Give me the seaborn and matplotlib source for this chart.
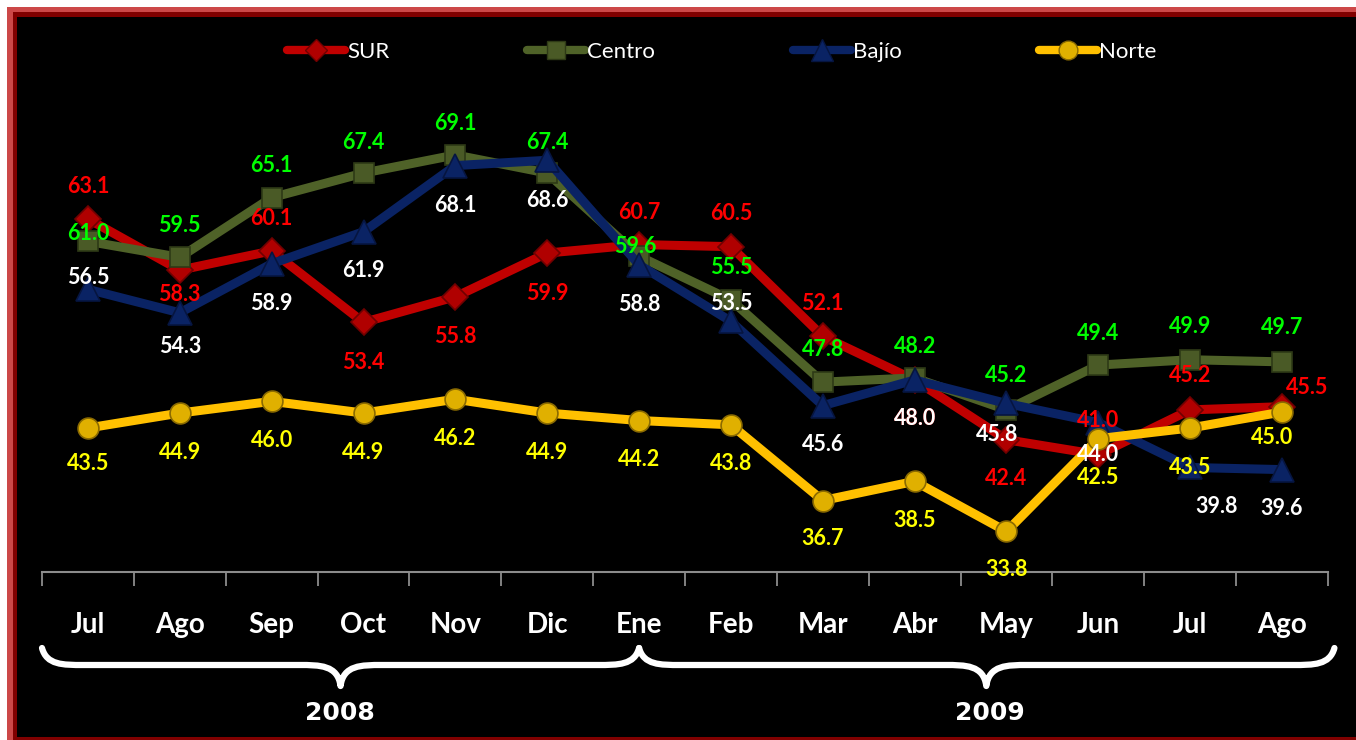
import numpy as np
import pandas as pd
import seaborn as sns
import matplotlib
matplotlib.use("Agg")
import matplotlib.pyplot as plt
from matplotlib.patches import Rectangle, PathPatch
from matplotlib.path import Path
from matplotlib.lines import Line2D
import matplotlib.transforms as mtransforms

# ---------------- data ----------------
months = ["Jul", "Ago", "Sep", "Oct", "Nov", "Dic", "Ene", "Feb", "Mar", "Abr",
          "May", "Jun", "Jul", "Ago"]
years = ["2008", "2009"]
regions = ["SUR", "Centro", "Bajío", "Norte"]
sur = [63.1, 58.3, 60.1, 53.4, 55.8, 59.9, 60.7, 60.5, 52.1, 48.0, 42.4, 41.0, 45.2, 45.5]
centro = [61.0, 59.5, 65.1, 67.4, 69.1, 67.4, 59.6, 55.5, 47.8, 48.2, 45.2, 49.4, 49.9, 49.7]
bajio = [56.5, 54.3, 58.9, 61.9, 68.1, 68.6, 58.8, 53.5, 45.6, 48.0, 45.8, 44.0, 39.8, 39.6]
norte = [43.5, 44.9, 46.0, 44.9, 46.2, 44.9, 44.2, 43.8, 36.7, 38.5, 33.8, 42.5, 43.5, 45.0]

series = {"SUR": sur, "Centro": centro, "Bajío": bajio, "Norte": norte}
df = pd.DataFrame([
    {"idx": i, "month": m, "region": r, "value": v}
    for r in regions for i, (m, v) in enumerate(zip(months, series[r]))
])

# ---------------- styles ----------------
W, H = 1356, 740
line_colors = {"SUR": "#c00000", "Centro": "#4f6228", "Bajío": "#0a2364", "Norte": "#ffc000"}
marker_face = {"SUR": "#b00000", "Centro": "#4a5a26", "Bajío": "#0a2364", "Norte": "#e0b000"}
marker_edge = {"SUR": "#700000", "Centro": "#2e3a16", "Bajío": "#061540", "Norte": "#8a6a00"}
markers = {"SUR": "D", "Centro": "s", "Bajío": "^", "Norte": "o"}
msize = {"SUR": 13, "Centro": 15, "Bajío": 17, "Norte": 15}
label_colors = {"SUR": "#ff0000", "Centro": "#00ff00", "Bajío": "#ffffff", "Norte": "#ffff00"}

# label offsets in pixels (dx, dy downward)
offsets = {
    "SUR": [(0, -32), (0, 24), (0, -32), (0, 40), (0, 40), (0, 40), (0, -32), (0, -33),
            (0, -33), (0, 38), (0, 39), (0, -34), (0, -34), (25, -19)],
    "Centro": [(0, -8), (0, -32), (0, -32), (0, -31), (0, -31), (0, -31), (-4, -10), (0, -32),
               (0, -33), (0, -31), (0, -34), (0, -32), (0, -33), (0, -34)],
    "Bajío": [(0, -12), (0, 34), (0, 40), (0, 39), (0, 40), (0, 40), (0, 40), (0, -18),
              (0, 39), (0, 38), (-9, 31), (0, 32), (26, 39), (0, 39)],
    "Norte": [(0, 36), (0, 39), (0, 39), (0, 39), (0, 39), (0, 39), (0, 39), (0, 39),
              (0, 38), (0, 39), (0, 38), (0, 39), (0, 39), (-10, 25)],
}

sns.set_theme(style="white")
plt.rcParams["font.family"] = ["Lato", "DejaVu Sans"]

fig = plt.figure(figsize=(W / 100, H / 100), dpi=100, facecolor="white")

def fy(py):
    return 1 - py / H

def fx(px):
    return px / W

# frame
fig.patches.append(Rectangle((fx(7), 0), 1, fy(7), transform=fig.transFigure,
                             facecolor="#cc4848", edgecolor="none", zorder=-30))
fig.patches.append(Rectangle((fx(13), 0), 1, fy(12), transform=fig.transFigure,
                             facecolor="#800000", edgecolor="none", zorder=-20))
fig.patches.append(Rectangle((fx(17), fy(737)), 1, fy(17) - fy(737), transform=fig.transFigure,
                             facecolor="black", edgecolor="none", zorder=-10))

ax = fig.add_axes([fx(42), fy(572), fx(1328) - fx(42), fy(92) - fy(572)])
ax.set_facecolor("none")
ax.set_zorder(1)

sns.lineplot(data=df, x="idx", y="value", hue="region", hue_order=regions,
             palette=line_colors, linewidth=6.5, sort=False, legend=False, ax=ax,
             zorder=2)
for k, r in enumerate(regions):
    ax.lines[k].set_zorder(2 + k)
    ax.lines[k].set_solid_capstyle("butt")
    sub = df[df.region == r]
    ax.plot(sub["idx"], sub["value"], linestyle="none", marker=markers[r],
            markersize=msize[r], markerfacecolor=marker_face[r],
            markeredgecolor=marker_edge[r], markeredgewidth=1.2, zorder=2.5 + k)

# data labels
for k, r in enumerate(regions):
    for i, v in enumerate(series[r]):
        dx, dy = offsets[r][i]
        ax.annotate(f"{v:.1f}", (i, v), xytext=(dx, -dy), textcoords="offset pixels",
                    ha="center", va="center", color=label_colors[r], fontsize=15.5,
                    fontweight="bold", zorder=10, annotation_clip=False)

ax.set_xlim(-0.5, len(months) - 0.5)
ax.set_ylim(30, 75)
ax.set_yticks([])
ax.set_xticks(range(len(months)))
ax.set_xticklabels(months, color="white", fontsize=20, fontweight="bold")
ax.set_xticks(np.arange(-0.5, len(months), 1), minor=True)
ax.tick_params(axis="x", which="major", bottom=True, length=0, pad=29)
ax.tick_params(axis="x", which="minor", bottom=True, length=10, width=1.3,
               color="#8c8c8c", direction="out")
ax.set_xlabel("")
ax.set_ylabel("")
for s in ["top", "left", "right"]:
    ax.spines[s].set_visible(False)
ax.spines["bottom"].set_color("#8c8c8c")
ax.spines["bottom"].set_linewidth(1.5)

# braces under the month labels
tr = mtransforms.blended_transform_factory(ax.transData, fig.transFigure)
ytop, ybar, ytip = fy(648), fy(665), fy(686)

def brace(xl, xr, xc, d=0.45):
    verts = [(xl, ytop), (xl + 0.05, ybar), (xl + d * 0.5, ybar), (xl + d, ybar),
             (xc - d, ybar),
             (xc - d * 0.5, ybar), (xc - 0.03, ybar), (xc, ytip),
             (xc + 0.03, ybar), (xc + d * 0.5, ybar), (xc + d, ybar),
             (xr - d, ybar),
             (xr - d * 0.5, ybar), (xr - 0.05, ybar), (xr, ytop)]
    codes = [Path.MOVETO, Path.CURVE4, Path.CURVE4, Path.CURVE4, Path.LINETO,
             Path.CURVE4, Path.CURVE4, Path.CURVE4,
             Path.CURVE4, Path.CURVE4, Path.CURVE4, Path.LINETO,
             Path.CURVE4, Path.CURVE4, Path.CURVE4]
    p = PathPatch(Path(verts, codes), transform=tr, facecolor="none",
                  edgecolor="white", linewidth=4.5, capstyle="round",
                  joinstyle="round", clip_on=False, zorder=5)
    fig.patches.append(p)

brace(-0.5, 6.0, 2.75)
brace(6.0, 13.57, 9.78)

fig.text(fx(340), fy(713), years[0], ha="center", va="center", color="white",
         fontsize=18, fontweight="bold", family=["DejaVu Sans"])
fig.text(fx(990), fy(713), years[1], ha="center", va="center", color="white",
         fontsize=18, fontweight="bold", family=["DejaVu Sans"])

# legend
handles = [Line2D([], [], color=line_colors[r], linewidth=6, marker=markers[r],
                  markersize=msize[r] * 0.9, markerfacecolor=marker_face[r],
                  markeredgecolor=marker_edge[r]) for r in regions]
leg = fig.legend(handles, regions, loc="center", bbox_to_anchor=(fx(722), fy(52)),
                 ncol=4, frameon=False, fontsize=16, handlelength=2.6,
                 handletextpad=0.1, columnspacing=6.2)
for t in leg.get_texts():
    t.set_color("white")

fig.savefig("out.png", dpi=100, facecolor=fig.get_facecolor())
